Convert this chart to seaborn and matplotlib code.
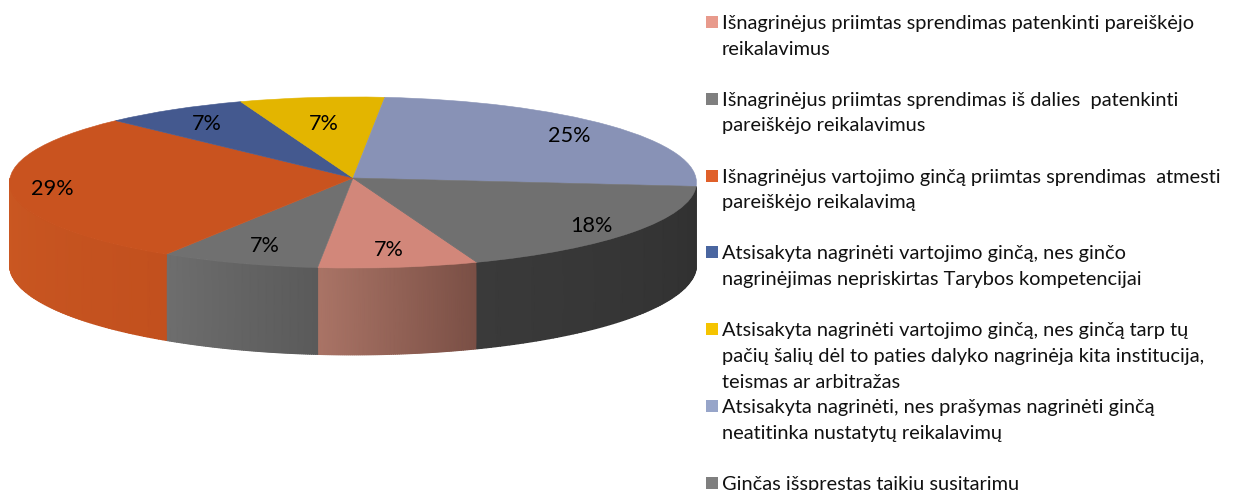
import numpy as np
import matplotlib
matplotlib.use("Agg")
import matplotlib.pyplot as plt
import matplotlib.transforms as mtransforms
from matplotlib.colors import LinearSegmentedColormap
from matplotlib.patches import Rectangle
import seaborn as sns

# case counts behind the shown percentages, last category has no slice
counts = [2, 2, 8, 2, 2, 7, 5, 0]
categories = [
    "Išnagrinėjus priimtas sprendimas patenkinti pareiškėjo\nreikalavimus",
    "Išnagrinėjus priimtas sprendimas iš dalies  patenkinti\npareiškėjo reikalavimus",
    "Išnagrinėjus vartojimo ginčą priimtas sprendimas  atmesti\npareiškėjo reikalavimą",
    "Atsisakyta nagrinėti vartojimo ginčą, nes ginčo\nnagrinėjimas nepriskirtas Tarybos kompetencijai",
    "Atsisakyta nagrinėti vartojimo ginčą, nes ginčą tarp tų\npačių šalių dėl to paties dalyko nagrinėja kita institucija,\nteismas ar arbitražas",
    "Atsisakyta nagrinėti, nes prašymas nagrinėti ginčą\nneatitinka nustatytų reikalavimų",
    "Ginčas išspręstas taikiu susitarimu",
]
top_colors = ["#D2877A", "#707070", "#C9531F", "#44598F", "#E3B500", "#8892B6", "#707070", "#707070"]
key_colors = ["#E89A8C", "#7F7F7F", "#E0602A", "#4A66A0", "#F5C400", "#97A5C9", "#7F7F7F"]
# wall shading, left and right end on screen
wall_colors = [("#AA7466", "#7A4F45"), ("#6E6E6E", "#5A5A5A"), ("#CB5822", "#C2501E"),
               None, None, None, ("#3A3A3A", "#303030"), None]
label_radius = [0.79, 0.78, 0.878, 0.81, 0.69, 0.84, 0.855, 0]

W, H = 1238, 490
CX, CY, RX, RY = 353, 178, 343, 85.3
K = 0.0526      # perspective of the tilted disc
DEPTH = 0.965   # wall height, in units of RY
START = -69.9

sns.set_theme(style="white")
plt.rcParams["font.family"] = ["Lato", "DejaVu Sans"]


class Tilt(mtransforms.Transform):
    input_dims = 2
    output_dims = 2

    def transform_non_affine(self, xy):
        xy = np.asarray(xy, dtype=float)
        return xy / (1 + K * xy[:, 1])[:, None]


def project(theta, r=1.0):
    t = np.radians(theta)
    u, v = r * np.cos(t), r * np.sin(t)
    w = 1 / (1 + K * v)
    return u * w, v * w, w


fig = plt.figure(figsize=(W / 100, H / 100), dpi=100)
ax = fig.add_axes([0, 0, 1, 1])

wedges, _ = ax.pie(counts, startangle=START, counterclock=False,
                   colors=sns.color_palette(top_colors), radius=1)
ax.set_aspect("auto")
ax.set_xlim(-CX / RX, (W - CX) / RX)
ax.set_ylim((CY - H) / RY, CY / RY)
ax.axis("off")

tilt = Tilt() + ax.transData
for wd, c in zip(wedges, top_colors):
    wd.set_transform(tilt)
    wd.set_zorder(3)
    wd.set_edgecolor(c)
    wd.set_linewidth(0.4)

# side walls, only the part that faces the viewer
for wd, shade in zip(wedges, wall_colors):
    if shade is None:
        continue
    shift = 360 if wd.theta2 <= -180 else 0
    a = np.clip(wd.theta1 + shift, -180, 0)
    b = np.clip(wd.theta2 + shift, -180, 0)
    th = np.linspace(a, b, 80)
    x, y, w = project(th)
    xs = np.vstack([x, x])
    ys = np.vstack([y, y - DEPTH * w])
    # colour runs with screen x, left end to right end
    tone = np.vstack([np.linspace(0, 1, th.size)] * 2)
    cmap = LinearSegmentedColormap.from_list("wall", shade)
    ax.pcolormesh(xs, ys, tone, cmap=cmap, vmin=0, vmax=1, shading="gouraud", zorder=2)

# percentages
total = sum(counts)
for wd, cnt, r in zip(wedges, counts, label_radius):
    if cnt == 0:
        continue
    x, y, _w = project((wd.theta1 + wd.theta2) / 2, r)
    ax.text(x, y, f"{round(100 * cnt / total)}%", ha="center", va="center_baseline",
            fontsize=15.6, color="black", zorder=5)

# legend on the right, fixed step per entry
for i, (label, col) in enumerate(zip(categories, key_colors)):
    base = 29 + 76.8 * i
    fig.add_artist(Rectangle((706 / W, 1 - (base - 1) / H), 11.5 / W, 12 / H,
                             transform=fig.transFigure, facecolor=col, edgecolor="none"))
    for j, line in enumerate(label.split("\n")):
        fig.text(722 / W, 1 - (base + 25.7 * j) / H, line, ha="left", va="baseline",
                 fontsize=14.42, color="#111111")

plt.savefig("out.png", dpi=100)
